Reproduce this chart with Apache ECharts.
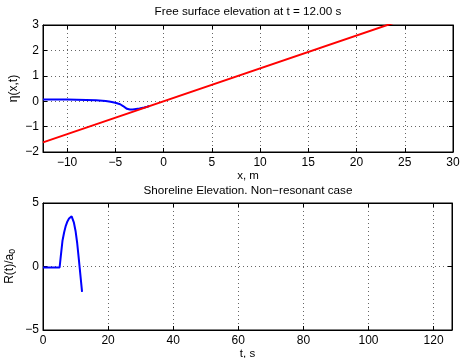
<!DOCTYPE html>
<html><head><meta charset="utf-8">
<script src="https://cdn.jsdelivr.net/npm/echarts@6/dist/echarts.min.js"></script>
<style>html,body{margin:0;padding:0;background:#fff}#c{width:461px;height:358px}</style>
</head><body><div id="c"></div>
<script>
// Top panel: free surface (blue) and beach bottom (red)
const etaX = [-12.5, -11, -10, -9, -8, -7, -6, -5.5, -5, -4.5, -4.2, -4, -3.8, -3.5, -3.2, -3, -2.5, -2, -1.7, -1.5];
const etaY = [0.07, 0.07, 0.065, 0.06, 0.05, 0.035, 0.01, -0.02, -0.06, -0.12, -0.19, -0.25, -0.3, -0.33, -0.33, -0.32, -0.29, -0.25, -0.22, -0.19];
const bedX = [-12.5, 30];
const bedY = [-1.62, 3.88];
// Bottom panel: shoreline elevation
const tVals = [0, 5.1, 5.5, 6, 6.5, 7, 7.5, 8, 8.5, 8.8, 9.1, 9.5, 10, 10.5, 11, 11.5, 12];
const rVals = [-0.08, -0.08, 0.9, 2.05, 2.7, 3.2, 3.55, 3.78, 3.92, 3.95, 3.85, 3.45, 2.8, 1.85, 0.6, -0.7, -2.0];
// Axis ticks
const topXTicks = [-10, -5, 0, 5, 10, 15, 20, 25, 30];
const topYTicks = [-2, -1, 0, 1, 2, 3];
const botXTicks = [0, 20, 40, 60, 80, 100, 120];
const botYTicks = [-5, 0, 5];
const titles = ['Free surface elevation at t = 12.00 s', 'Shoreline Elevation. Non\u2212resonant case'];

const FONT = 'Liberation Sans, Arial, Helvetica, sans-serif';
const fmt = list => v => (list.some(t => Math.abs(t - v) < 1e-9) ? String(v).replace('-', '\u2212') : '');
const grid = [
  {left: 43, top: 25, width: 410, height: 127, show: true, borderColor: '#000', borderWidth: 1, containLabel: false, outerBoundsMode: 'none'},
  {left: 43, top: 203, width: 409, height: 127, show: true, borderColor: '#000', borderWidth: 1, containLabel: false, outerBoundsMode: 'none'}
];
const split = {show: true, lineStyle: {color: '#666', type: [1, 3], width: 1}};
function mainX(gi, min, max, ticks, step, name) {
  return {type: 'value', gridIndex: gi, position: 'bottom', min, max, minInterval: step, maxInterval: step, splitNumber: 8,
    axisLine: {show: true, onZero: false, lineStyle: {color: '#000'}},
    axisTick: {show: true, inside: true, length: 4, lineStyle: {color: '#000'}},
    axisLabel: {color: '#000', fontSize: 12, fontFamily: FONT, margin: 5, formatter: fmt(ticks), showMinLabel: true, showMaxLabel: true},
    splitLine: split,
    name, nameLocation: 'middle', nameGap: 18, nameMoveOverlap: false, nameTextStyle: {color: '#000', fontSize: 11.5, fontFamily: FONT}};
}
function sideX(gi, min, max, step) {
  return {type: 'value', gridIndex: gi, position: 'top', min, max, minInterval: step, maxInterval: step, splitNumber: 8,
    axisLine: {show: true, onZero: false, lineStyle: {color: '#000'}},
    axisTick: {show: true, inside: true, length: 4, lineStyle: {color: '#000'}},
    axisLabel: {show: false}, splitLine: {show: false}};
}
function mainY(gi, min, max, interval, ticks, name, gap) {
  return {type: 'value', gridIndex: gi, position: 'left', min, max, interval,
    axisLine: {show: true, onZero: false, lineStyle: {color: '#000'}},
    axisTick: {show: true, inside: true, length: 4, lineStyle: {color: '#000'}},
    axisLabel: {color: '#000', fontSize: 12, fontFamily: FONT, margin: 4, formatter: fmt(ticks)},
    splitLine: split,
    name, nameLocation: 'middle', nameGap: gap, nameMoveOverlap: false,
    nameTextStyle: {color: '#000', fontSize: 12, fontFamily: FONT, rich: {sub: {fontSize: 8.5, verticalAlign: 'bottom', padding: [5, 0, 0, 0], color: '#000', fontFamily: FONT}}}};
}
function sideY(gi, min, max, interval) {
  return {type: 'value', gridIndex: gi, position: 'right', min, max, interval,
    axisLine: {show: true, onZero: false, lineStyle: {color: '#000'}},
    axisTick: {show: true, inside: true, length: 4, lineStyle: {color: '#000'}},
    axisLabel: {show: false}, splitLine: {show: false}};
}
const zip = (a, b) => a.map((v, i) => [v, b[i]]);
const option = {
  backgroundColor: '#fff',
  animation: false,
  grid,
  xAxis: [mainX(0, -12.5, 30, topXTicks, 5, 'x, m'), sideX(0, -12.5, 30, 5),
          mainX(1, 0, 125.66, botXTicks, 20, 't, s'), sideX(1, 0, 125.66, 20)],
  yAxis: [mainY(0, -2, 3, 1, topYTicks, '\u03b7(x,t)', 23), sideY(0, -2, 3, 1),
          mainY(1, -5, 5, 5, botYTicks, 'R(t)/a{sub|0}', 26), sideY(1, -5, 5, 5)],
  graphic: [
    {type: 'text', x: 248, y: 12, style: {text: titles[0], fill: '#000', font: '11.7px ' + FONT, textAlign: 'center', textVerticalAlign: 'middle'}},
    {type: 'text', x: 248, y: 191, style: {text: titles[1], fill: '#000', font: '11.7px ' + FONT, textAlign: 'center', textVerticalAlign: 'middle'}}
  ],
  series: [
    {type: 'line', xAxisIndex: 0, yAxisIndex: 0, data: zip(etaX, etaY), showSymbol: false, lineStyle: {color: '#0000ff', width: 2}, itemStyle: {color: '#0000ff'}},
    {type: 'line', xAxisIndex: 0, yAxisIndex: 0, data: zip(bedX, bedY), showSymbol: false, clip: true, lineStyle: {color: '#ff0000', width: 2}, itemStyle: {color: '#ff0000'}},
    {type: 'line', xAxisIndex: 2, yAxisIndex: 2, data: zip(tVals, rVals), showSymbol: false, lineStyle: {color: '#0000ff', width: 2}, itemStyle: {color: '#0000ff'}}
  ]
};
const chart = echarts.init(document.getElementById('c'), null, {renderer: 'canvas'});
chart.setOption(option);
</script></body></html>
